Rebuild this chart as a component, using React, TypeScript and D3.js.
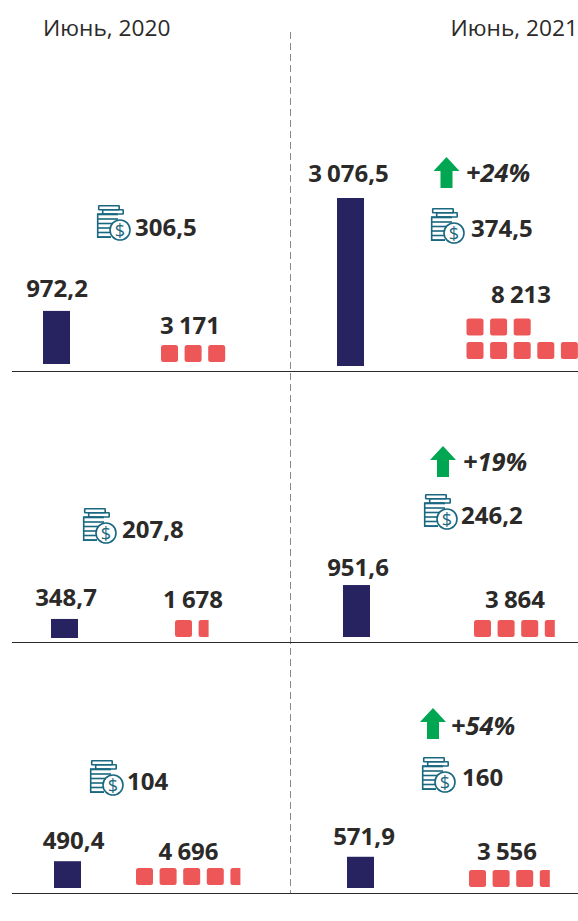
import React from "react";
import * as d3 from "d3";

const periods = ["Июнь, 2020", "Июнь, 2021"];
const loans2020 = [972.2, 348.7, 490.4];
const loans2021 = [3076.5, 951.6, 571.9];
const loanLabels2020 = ["972,2", "348,7", "490,4"];
const loanLabels2021 = ["3 076,5", "951,6", "571,9"];
const coins2020 = ["306,5", "207,8", "104"];
const coins2021 = ["374,5", "246,2", "160"];
const counts2020 = [3171, 1678, 4696];
const counts2021 = [8213, 3864, 3556];
const countLabels2020 = ["3 171", "1 678", "4 696"];
const countLabels2021 = ["8 213", "3 864", "3 556"];
const growth = ["+24%", "+19%", "+54%"];

// layout, separate from the data
const W = 578, H = 921;
const FONT = "'Open Sans', sans-serif";
const INK = "#2b2a29";
const baselines = [371.5, 642.5, 893.5];
const barLayout2020 = [{ x: 43, b: 364, ly: 297, lx: 57 }, { x: 51, b: 638, ly: 606, lx: 66 }, { x: 54, b: 888, ly: 849, lx: 73.5 }];
const barLayout2021 = [{ x: 337, b: 366, ly: 182, lx: 348.5 }, { x: 343, b: 637, ly: 576, lx: 358 }, { x: 347, b: 888, ly: 845, lx: 364 }];
const coinLayout2020 = [{ x: 96, y: 205, tx: 135, ty: 236 }, { x: 82, y: 508, tx: 122, ty: 538 }, { x: 89, y: 760, tx: 127, ty: 790 }];
const coinLayout2021 = [{ x: 430, y: 208, tx: 471, ty: 237 }, { x: 423, y: 494, tx: 461, ty: 524 }, { x: 421, y: 757, tx: 462, ty: 786 }];
const sqLayout2020 = [{ x: 161, y: 345, lx: 190, ly: 334 }, { x: 175, y: 620, lx: 193, ly: 608 }, { x: 136, y: 868, lx: 188.5, ly: 860 }];
const sqLayout2021 = [{ x: 466.5, y: 342, lx: 521, ly: 303 }, { x: 474, y: 620, lx: 515, ly: 608 }, { x: 469, y: 870, lx: 507, ly: 860 }];
const arrowLayout = [{ x: 433.5, y: 157, tx: 466, ty: 182 }, { x: 430, y: 446, tx: 463, ty: 471 }, { x: 420, y: 708, tx: 451, ty: 735 }];

const barH = d3.scaleLinear().domain([0, 3076.5]).range([0, 168]);
const SQ = 17, STEP = 23.6, ROW = 5;
const partialW = d3.scaleThreshold<number, number>().domain([0.5]).range([0, 10]);

function Coins({ x, y }: { x: number; y: number }) {
  const c = "#1a6880";
  const stripes = d3.range(6).map((i) => 9.5 + i * 4.5);
  return (
    <g transform={`translate(${x},${y})`} fill="none" stroke={c} strokeWidth={1.6}>
      <rect x={2.7} y={0.8} width={20.5} height={4} rx={0.5} />
      <rect x={6.7} y={4.8} width={20.5} height={4.2} rx={0.5} />
      <path d={`M21 9H1.7V32.2H15`} />
      {stripes.map((s, i) => (
        <path key={i} d={`M1.7 ${s}H${i < 3 ? 22 : 15}`} />
      ))}
      <circle cx={24} cy={25} r={10} fill="#fff" />
      <text x={24} y={31.5} textAnchor="middle" fontFamily={FONT} fontSize={18} fill={c} stroke="none">$</text>
    </g>
  );
}

function Squares({ value, x, y }: { value: number; x: number; y: number }) {
  const whole = Math.floor(value / 1000);
  const part = partialW(value / 1000 - whole);
  const items = d3.range(whole).map((i) => ({ col: i % ROW, row: Math.floor(i / ROW) }));
  return (
    <g fill="#ee5757">
      {items.map((d, i) => (
        <rect key={i} x={x + d.col * STEP} y={y - d.row * 23.4} width={SQ} height={SQ} rx={2.5} />
      ))}
      {part > 0 && (
        <path
          transform={`translate(${x + (whole % ROW) * STEP},${y})`}
          d={`M2.5 0H${part}V${SQ}H2.5A2.5 2.5 0 0 1 0 ${SQ - 2.5}V2.5A2.5 2.5 0 0 1 2.5 0Z`}
        />
      )}
    </g>
  );
}

function Arrow({ x, y }: { x: number; y: number }) {
  return <path transform={`translate(${x},${y})`} fill="#00a651" d="M13 0L26 14H19V31H7V14H0Z" />;
}

function Label({ x, y, text, anchor = "middle", style }: { x: number; y: number; text: string; anchor?: string; style?: string }) {
  return (
    <text x={x} y={y} textAnchor={anchor} fontFamily={FONT} fontWeight={700} fontStyle={style} fontSize={style ? 25.4 : 24} fill={INK} wordSpacing={-1}>
      {text}
    </text>
  );
}

export default function App() {
  const sets = [
    { loans: loans2020, ll: loanLabels2020, bl: barLayout2020, coins: coins2020, cl: coinLayout2020, counts: counts2020, sl: countLabels2020, sq: sqLayout2020 },
    { loans: loans2021, ll: loanLabels2021, bl: barLayout2021, coins: coins2021, cl: coinLayout2021, counts: counts2021, sl: countLabels2021, sq: sqLayout2021 },
  ];
  return (
    <svg width={W} height={H} style={{ position: "absolute", left: 0, top: 0, background: "#fff" }}>
      <text x={43} y={36} fontFamily={FONT} fontSize={22.7} fill={INK}>{periods[0]}</text>
      <text x={578} y={36} textAnchor="end" fontFamily={FONT} fontSize={22.7} fill={INK}>{periods[1]}</text>
      <line x1={290.5} x2={290.5} y1={32} y2={893} stroke="#8a8a8a" strokeWidth={1} strokeDasharray="7 4" />
      {baselines.map((b) => (
        <line key={b} x1={12} x2={578} y1={b} y2={b} stroke="#2b2a29" strokeWidth={1.2} />
      ))}
      {sets.map((s, si) =>
        s.loans.map((v, i) => (
          <g key={`${si}-${i}`}>
            <rect x={s.bl[i].x} y={s.bl[i].b - barH(v)} width={27} height={barH(v)} fill="#272361" />
            <Label x={s.bl[i].lx} y={s.bl[i].ly} text={s.ll[i]} />
            <Coins x={s.cl[i].x} y={s.cl[i].y} />
            <Label x={s.cl[i].tx} y={s.cl[i].ty} text={s.coins[i]} anchor="start" />
            <Squares value={s.counts[i]} x={s.sq[i].x} y={s.sq[i].y} />
            <Label x={s.sq[i].lx} y={s.sq[i].ly} text={s.sl[i]} />
          </g>
        ))
      )}
      {growth.map((g, i) => (
        <g key={g}>
          <Arrow x={arrowLayout[i].x} y={arrowLayout[i].y} />
          <Label x={arrowLayout[i].tx} y={arrowLayout[i].ty} text={g} anchor="start" style="italic" />
        </g>
      ))}
    </svg>
  );
}
